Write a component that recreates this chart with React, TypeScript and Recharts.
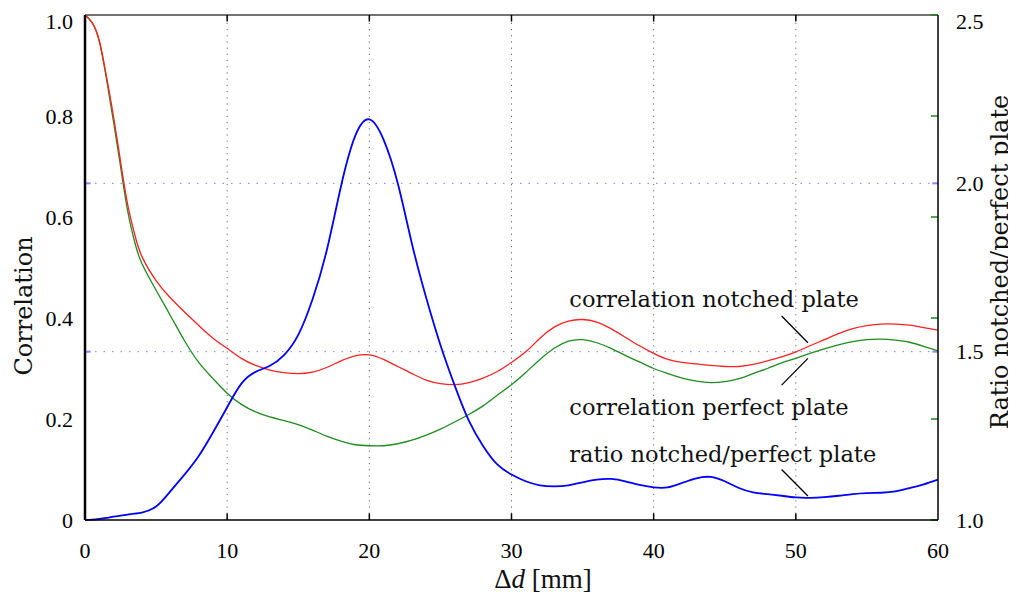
import React from 'react'
import {
  LineChart,
  Line,
  XAxis,
  YAxis,
  ReferenceLine,
  ReferenceDot,
} from 'recharts'

// distance [mm]
const distances = [
  0, 0.5, 1, 1.5, 2, 2.5, 3, 3.5, 4, 5, 6, 7, 8, 9, 10, 11, 12, 13, 14, 15, 16, 17, 18, 19, 20,
  21, 22, 23, 24, 25, 26, 27, 28, 29, 30, 31, 32, 33, 34, 35, 36, 37, 38, 39, 40, 41, 42, 43, 44,
  45, 46, 47, 48, 49, 50, 51, 52, 53, 54, 55, 56, 57, 58, 59, 60,
]

const corrNotched = [
  1.0, 0.985, 0.95, 0.88, 0.8, 0.71, 0.625, 0.565, 0.522, 0.474, 0.44, 0.412, 0.385, 0.36, 0.34,
  0.32, 0.306, 0.297, 0.292, 0.29, 0.293, 0.302, 0.315, 0.325, 0.327, 0.318, 0.304, 0.29, 0.277,
  0.27, 0.268, 0.272, 0.281, 0.294, 0.312, 0.333, 0.36, 0.382, 0.394, 0.397, 0.392, 0.379, 0.362,
  0.345, 0.33, 0.318, 0.312, 0.309, 0.306, 0.304, 0.304, 0.308, 0.315, 0.323, 0.333, 0.345, 0.357,
  0.369, 0.379, 0.385, 0.388, 0.388, 0.386, 0.381, 0.376,
]

const corrPerfect = [
  1.0, 0.985, 0.948, 0.875, 0.79, 0.7, 0.612, 0.55, 0.508, 0.455, 0.405, 0.355, 0.312, 0.28, 0.251,
  0.229, 0.214, 0.204, 0.197, 0.189, 0.178, 0.166, 0.156, 0.149, 0.147, 0.147, 0.151, 0.158, 0.168,
  0.18, 0.194, 0.209, 0.226, 0.247, 0.268, 0.292, 0.318, 0.34, 0.354, 0.357, 0.351, 0.34, 0.326,
  0.313, 0.3, 0.29, 0.281, 0.275, 0.272, 0.274, 0.28, 0.29, 0.3, 0.311, 0.32, 0.33, 0.339, 0.347,
  0.353, 0.357, 0.358, 0.356, 0.352, 0.344, 0.335,
]

const ratio = [
  1.0, 1.001, 1.003, 1.006, 1.01, 1.013, 1.016, 1.019, 1.022, 1.04, 1.085, 1.135, 1.19, 1.26, 1.335,
  1.405, 1.44, 1.458, 1.49, 1.55, 1.655, 1.8, 1.99, 2.14, 2.19, 2.13, 2.0, 1.82, 1.66, 1.52, 1.4,
  1.295, 1.22, 1.165, 1.135, 1.115, 1.103, 1.1, 1.103, 1.112, 1.12, 1.122, 1.115, 1.104, 1.097,
  1.097, 1.11, 1.124, 1.128, 1.115, 1.095, 1.082, 1.077, 1.072, 1.067, 1.066, 1.068, 1.072, 1.077,
  1.08, 1.081, 1.085, 1.095, 1.106, 1.12,
]

const xTicks = [0, 10, 20, 30, 40, 50, 60]
const leftTicks = [0, 0.2, 0.4, 0.6, 0.8, 1.0]
const rightTicks = [1.0, 1.5, 2.0, 2.5]
const rightMinorTicks = [1.0, 1.3, 1.6, 1.9, 2.2, 2.5]
const ratioGrid = [1.5, 2.0]

const data = distances.map((d, i) => ({
  d,
  notched: corrNotched[i],
  perfect: corrPerfect[i],
  ratio: ratio[i],
}))

const serif = '"DejaVu Serif", serif'
const tickFont = { fill: '#000', fontSize: 22, fontFamily: '"Liberation Serif", serif' }

const labelText = (text: string) => (props: any) => (
  <text x={props.cx} y={props.cy} fill="#111" fontSize={22.5} fontFamily={serif}>
    {text}
  </text>
)

export default function App() {
  return (
    <div style={{ position: 'relative', width: 1000, height: 586 }}>
      <LineChart
        width={1000}
        height={578}
        data={data}
        margin={{ top: 7, right: 10, bottom: 36, left: 17 }}
      >
        <XAxis
          dataKey="d"
          type="number"
          domain={[0, 60]}
          ticks={xTicks}
          tickLine={false}
          tickSize={18}
          tickMargin={4}
          height={30}
          tick={tickFont}
          axisLine={{ stroke: '#000', strokeWidth: 1.5 }}
        />
        <YAxis
          yAxisId="left"
          domain={[0, 1]}
          ticks={leftTicks}
          tickFormatter={(v: number) => (v === 0 ? '0' : v.toFixed(1))}
          tickLine={false}
          tickSize={10}
          tickMargin={2}
          width={60}
          tick={tickFont}
          axisLine={{ stroke: '#000', strokeWidth: 2.5 }}
        />
        <YAxis
          yAxisId="right"
          orientation="right"
          domain={[1, 2.5]}
          ticks={rightTicks}
          tickFormatter={(v: number) => v.toFixed(1)}
          tickLine={false}
          tickSize={14}
          tickMargin={4}
          width={60}
          tick={tickFont}
          axisLine={{ stroke: '#000', strokeWidth: 1.5 }}
        />

        {/* top frame */}
        <ReferenceLine yAxisId="left" y={1} stroke="#444" strokeWidth={1.5} />

        {/* vertical dotted grid */}
        {xTicks.slice(1, -1).map((t) => (
          <ReferenceLine key={'g' + t} yAxisId="left" x={t} stroke="#666" strokeDasharray="1.2 5" />
        ))}
        {xTicks.slice(1, -1).map((t) => (
          <ReferenceLine
            key={'tb' + t}
            yAxisId="left"
            segment={[{ x: t, y: 0 }, { x: t, y: 0.013 }]}
            stroke="#000"
            strokeWidth={1.5}
          />
        ))}
        {xTicks.slice(1, -1).map((t) => (
          <ReferenceLine
            key={'tt' + t}
            yAxisId="left"
            segment={[{ x: t, y: 1 }, { x: t, y: 0.987 }]}
            stroke="#000"
            strokeWidth={1.5}
          />
        ))}

        {/* horizontal blue dotted grid on ratio axis */}
        {ratioGrid.map((r) => (
          <ReferenceLine key={'h' + r} yAxisId="right" y={r} stroke="#7f7fff" strokeDasharray="1.5 7" />
        ))}
        {ratioGrid.map((r) => (
          <ReferenceLine
            key={'hl' + r}
            yAxisId="right"
            segment={[{ x: 0, y: r }, { x: 0.4, y: r }]}
            stroke="#8888ff"
            strokeWidth={2}
          />
        ))}
        {ratioGrid.map((r) => (
          <ReferenceLine
            key={'hr' + r}
            yAxisId="right"
            segment={[{ x: 59.6, y: r }, { x: 60, y: r }]}
            stroke="#8888ff"
            strokeWidth={2}
          />
        ))}

        {/* green minor ticks on the right axis */}
        {rightMinorTicks.map((r) => (
          <ReferenceLine
            key={'m' + r}
            yAxisId="right"
            segment={[{ x: 59.5, y: r }, { x: 60, y: r }]}
            stroke="#1a8a1a"
            strokeWidth={1.5}
          />
        ))}

        <Line
          yAxisId="left"
          type="natural"
          dataKey="perfect"
          stroke="#1e8c1e"
          strokeWidth={1.3}
          dot={false}
          isAnimationActive={false}
        />
        <Line
          yAxisId="left"
          type="natural"
          dataKey="notched"
          stroke="#ff2020"
          strokeWidth={1.3}
          dot={false}
          isAnimationActive={false}
        />
        <Line
          yAxisId="right"
          type="natural"
          dataKey="ratio"
          stroke="#0000ff"
          strokeWidth={1.8}
          dot={false}
          isAnimationActive={false}
        />

        {/* annotation pointers */}
        <ReferenceLine yAxisId="left" segment={[{ x: 49.0, y: 0.404 }, { x: 50.85, y: 0.351 }]} stroke="#000" strokeWidth={1.3} />
        <ReferenceLine yAxisId="left" segment={[{ x: 49.0, y: 0.267 }, { x: 50.85, y: 0.32 }]} stroke="#000" strokeWidth={1.3} />
        <ReferenceLine yAxisId="left" segment={[{ x: 49.0, y: 0.1 }, { x: 50.85, y: 0.0475 }]} stroke="#000" strokeWidth={1.3} />

        <ReferenceDot yAxisId="left" x={34.07} y={0.421} r={0} shape={labelText('correlation notched plate')} />
        <ReferenceDot yAxisId="left" x={34.07} y={0.208} r={0} shape={labelText('correlation perfect plate')} />
        <ReferenceDot yAxisId="left" x={34.07} y={0.1155} r={0} shape={labelText('ratio notched/perfect plate')} />
      </LineChart>

      <div
        style={{
          position: 'absolute',
          left: 16,
          top: 298,
          transform: 'translate(-50%, -50%) rotate(-90deg)',
          fontFamily: serif,
          fontSize: 24,
          color: '#111',
          whiteSpace: 'nowrap',
        }}
      >
        Correlation
      </div>
      <div
        style={{
          position: 'absolute',
          left: 992,
          top: 254,
          transform: 'translate(-50%, -50%) rotate(-90deg)',
          fontFamily: serif,
          fontSize: 24,
          color: '#111',
          whiteSpace: 'nowrap',
        }}
      >
        Ratio notched/perfect plate
      </div>
      <div
        style={{
          position: 'absolute',
          left: 535,
          top: 571,
          transform: 'translate(-50%, -50%)',
          fontFamily: '"Liberation Serif", serif',
          fontSize: 27,
          lineHeight: '28px',
          color: '#111',
          whiteSpace: 'nowrap',
        }}
      >
        Δ<i>d</i> [mm]
      </div>
    </div>
  )
}
